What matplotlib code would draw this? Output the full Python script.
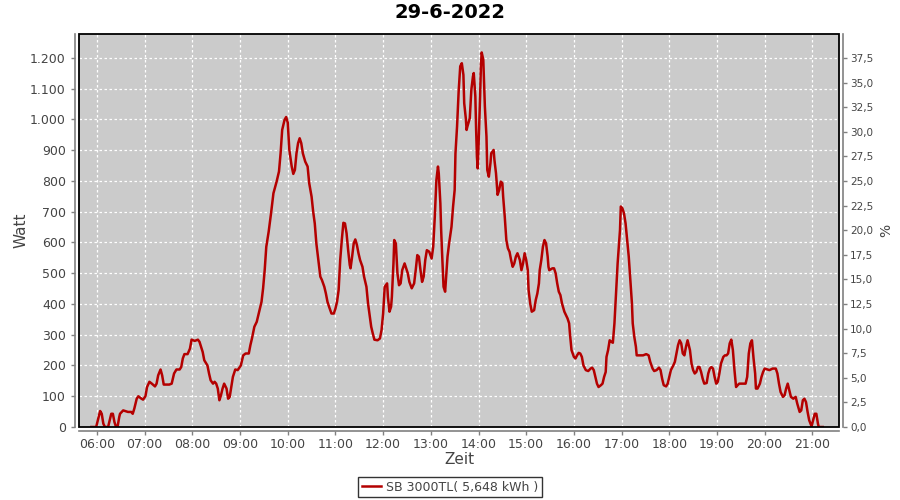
import matplotlib
matplotlib.use("Agg")
import matplotlib.pyplot as plt
from matplotlib.patches import Rectangle
from matplotlib.ticker import FuncFormatter, MultipleLocator

zeiten = [
    "05:53", "05:59", "06:02", "06:04", "06:06", "06:08", "06:10", "06:14", "06:16", "06:18",
    "06:20", "06:22", "06:24", "06:26", "06:28", "06:29", "06:33", "06:39", "06:43", "06:45",
    "06:47", "06:50", "06:52", "06:56", "06:58", "07:01", "07:03", "07:06", "07:09", "07:13",
    "07:15", "07:17", "07:20", "07:22", "07:24", "07:31", "07:34", "07:37", "07:40", "07:44",
    "07:46", "07:48", "07:50", "07:54", "07:57", "07:59", "08:03", "08:07", "08:09", "08:11",
    "08:13", "08:15", "08:19", "08:21", "08:23", "08:26", "08:28", "08:30", "08:32", "08:34",
    "08:36", "08:38", "08:40", "08:43", "08:45", "08:47", "08:49", "08:51", "08:54", "08:57",
    "09:01", "09:04", "09:07", "09:11", "09:13", "09:15", "09:18", "09:21", "09:24", "09:27",
    "09:29", "09:31", "09:33", "09:36", "09:39", "09:42", "09:46", "09:49", "09:51", "09:53",
    "09:56", "09:58", "10:00", "10:02", "10:05", "10:07", "10:09", "10:11", "10:13", "10:15",
    "10:17", "10:19", "10:22", "10:25", "10:27", "10:30", "10:32", "10:34", "10:36", "10:38",
    "10:41", "10:43", "10:46", "10:48", "10:50", "10:52", "10:55", "10:58", "11:00", "11:02",
    "11:04", "11:06", "11:08", "11:10", "11:12", "11:14", "11:16", "11:18", "11:19", "11:21",
    "11:23", "11:25", "11:27", "11:29", "11:31", "11:34", "11:36", "11:39", "11:41", "11:43",
    "11:45", "11:47", "11:49", "11:53", "11:56", "11:58", "12:00", "12:02", "12:05", "12:06",
    "12:08", "12:10", "12:11", "12:13", "12:14", "12:16", "12:18", "12:20", "12:22", "12:24",
    "12:27", "12:29", "12:31", "12:33", "12:36", "12:39", "12:41", "12:43", "12:45", "12:47",
    "12:49", "12:51", "12:53", "12:55", "12:58", "13:01", "13:03", "13:05", "13:07", "13:09",
    "13:10", "13:12", "13:13", "13:14", "13:16", "13:18", "13:19", "13:21", "13:23", "13:26",
    "13:28", "13:30", "13:31", "13:33", "13:35", "13:37", "13:39", "13:41", "13:42", "13:44",
    "13:45", "13:46", "13:49", "13:51", "13:53", "13:54", "13:56", "13:57", "13:58", "13:59",
    "14:00", "14:02", "14:03", "14:04", "14:06", "14:07", "14:08", "14:10", "14:11", "14:13",
    "14:15", "14:16", "14:19", "14:20", "14:22", "14:24", "14:26", "14:28", "14:30", "14:31",
    "14:33", "14:35", "14:37", "14:39", "14:41", "14:43", "14:45", "14:47", "14:49", "14:52",
    "14:54", "14:56", "14:58", "15:00", "15:02", "15:03", "15:05", "15:07", "15:10", "15:12",
    "15:14", "15:16", "15:17", "15:19", "15:21", "15:23", "15:25", "15:27", "15:28", "15:29",
    "15:33", "15:35", "15:37", "15:39", "15:41", "15:43", "15:45", "15:48", "15:52", "15:54",
    "15:55", "15:57", "16:00", "16:02", "16:04", "16:06", "16:08", "16:10", "16:12", "16:15",
    "16:18", "16:21", "16:23", "16:25", "16:27", "16:29", "16:31", "16:34", "16:36", "16:38",
    "16:40", "16:41", "16:43", "16:45", "16:47", "16:49", "16:51", "16:53", "16:55", "16:58",
    "16:59", "17:01", "17:03", "17:05", "17:07", "17:09", "17:11", "17:13", "17:14", "17:16",
    "17:18", "17:19", "17:27", "17:31", "17:34", "17:36", "17:39", "17:41", "17:44", "17:47",
    "17:49", "17:51", "17:53", "17:56", "17:58", "18:00", "18:02", "18:05", "18:07", "18:09",
    "18:11", "18:13", "18:15", "18:17", "18:19", "18:21", "18:23", "18:26", "18:28", "18:30",
    "18:32", "18:34", "18:36", "18:38", "18:40", "18:42", "18:44", "18:47", "18:49", "18:51",
    "18:53", "18:55", "18:57", "18:59", "19:01", "19:03", "19:05", "19:08", "19:10", "19:12",
    "19:14", "19:16", "19:18", "19:20", "19:22", "19:24", "19:26", "19:28", "19:33", "19:36",
    "19:38", "19:40", "19:42", "19:44", "19:46", "19:48", "19:49", "19:51", "19:54", "19:56",
    "19:58", "20:00", "20:06", "20:10", "20:14", "20:16", "20:18", "20:20", "20:23", "20:25",
    "20:27", "20:29", "20:31", "20:33", "20:36", "20:39", "20:41", "20:44", "20:46", "20:48",
    "20:50", "20:52", "20:54", "20:56", "20:59", "21:01", "21:03", "21:05", "21:07", "21:08",
    "21:13",
]
watt = [
    0, 0, 32, 52, 43, 11, 0, 0, 22, 43,
    43, 16, 0, 2, 32, 43, 54, 49, 49, 43,
    60, 92, 100, 92, 89, 100, 130, 147, 141, 132,
    141, 168, 187, 168, 138, 138, 141, 174, 187, 187,
    195, 223, 237, 237, 255, 284, 280, 284, 277, 261,
    244, 217, 200, 174, 152, 141, 147, 141, 125, 87,
    103, 125, 141, 125, 92, 98, 130, 163, 187, 185,
    200, 233, 239, 239, 266, 288, 326, 342, 375, 407,
    451, 510, 586, 635, 695, 760, 798, 831, 890, 966,
    999, 1008, 990, 901, 847, 823, 836, 890, 923, 939,
    923, 890, 863, 847, 793, 749, 700, 662, 597, 554,
    489, 478, 456, 434, 407, 391, 369, 369, 385, 407,
    445, 543, 608, 664, 662, 630, 575, 527, 516, 554,
    597, 610, 592, 565, 543, 521, 489, 456, 402, 364,
    326, 304, 284, 282, 288, 315, 369, 456, 467, 423,
    375, 391, 423, 532, 608, 597, 500, 461, 467, 510,
    532, 516, 500, 472, 451, 467, 510, 559, 554, 510,
    472, 489, 543, 575, 570, 548, 586, 684, 803, 847,
    825, 727, 641, 575, 456, 440, 478, 554, 597, 651,
    717, 771, 890, 977, 1091, 1173, 1183, 1145, 1053, 1004,
    966, 977, 1004, 1097, 1140, 1151, 1075, 966, 879, 841,
    912, 1075, 1173, 1218, 1194, 1118, 1042, 945, 836, 814,
    858, 890, 901, 869, 825, 755, 771, 798, 793, 749,
    684, 608, 581, 570, 543, 521, 532, 554, 565, 543,
    510, 532, 565, 543, 510, 445, 402, 375, 380, 413,
    434, 467, 510, 543, 586, 608, 597, 554, 521, 510,
    516, 516, 500, 467, 440, 429, 402, 375, 353, 337,
    304, 250, 228, 223, 233, 241, 239, 228, 200, 185,
    182, 190, 193, 185, 163, 141, 130, 136, 141, 163,
    179, 228, 250, 282, 277, 274, 337, 434, 532, 641,
    717, 711, 695, 662, 608, 554, 478, 402, 337, 293,
    261, 233, 233, 237, 233, 212, 190, 182, 185, 193,
    185, 157, 136, 132, 141, 163, 185, 200, 212, 239,
    266, 282, 272, 239, 233, 261, 282, 250, 206, 185,
    174, 179, 195, 195, 179, 157, 141, 143, 174, 190,
    195, 190, 163, 141, 147, 174, 206, 228, 233, 233,
    239, 272, 284, 250, 185, 130, 136, 141, 141, 141,
    163, 239, 272, 282, 223, 174, 125, 125, 141, 163,
    179, 190, 185, 190, 190, 174, 141, 114, 98, 103,
    125, 141, 119, 98, 92, 98, 76, 49, 54, 87,
    92, 81, 49, 22, 2, 22, 43, 43, 11, 0,
    0,
]

titel = "29-6-2022"
legende = "SB 3000TL( 5,648 kWh )"
stunden = ["06:00", "07:00", "08:00", "09:00", "10:00", "11:00", "12:00", "13:00",
           "14:00", "15:00", "16:00", "17:00", "18:00", "19:00", "20:00", "21:00"]
watt_pro_prozent = 32.0   # 37,5 % entspricht 1.200 W


def minuten(hhmm):
    h, m = hhmm.split(":")
    return int(h) * 60 + int(m)


x = [minuten(t) for t in zeiten]

GRAU = "#808080"
TEXT = "#444444"

fig = plt.figure(figsize=(9, 5), dpi=100)
ax = fig.add_axes([79 / 900, 1 - 427 / 500, (839 - 79) / 900, (427 - 34) / 500])
ax.set_facecolor("#CBCBCB")

linie, = ax.plot(x, watt, color="#B40000", lw=1.8, zorder=3, label=legende)

ax.set_xlim(337.4, 1293.5)
ax.set_ylim(0, 1278)
ax.set_xticks([minuten(s) for s in stunden])
ax.set_xticklabels(stunden)
ax.yaxis.set_major_locator(MultipleLocator(100))
ax.yaxis.set_major_formatter(FuncFormatter(lambda v, p: f"{v:,.0f}".replace(",", ".")))

ax.grid(True, color="white", lw=0.9, ls=(0, (2, 2)))
ax.set_axisbelow(True)

ax2 = ax.twinx()
ax2.set_ylim(0, 1278 / watt_pro_prozent)
ax2.yaxis.set_major_locator(MultipleLocator(2.5))
ax2.yaxis.set_major_formatter(FuncFormatter(lambda v, p: f"{v:.1f}".replace(".", ",")))

for a in (ax, ax2):
    for s in a.spines.values():
        s.set_visible(False)
ax.spines["left"].set_visible(True)
ax.spines["bottom"].set_visible(True)
ax2.spines["right"].set_visible(True)
for s in (ax.spines["left"], ax.spines["bottom"], ax2.spines["right"]):
    s.set_position(("outward", 3))
    s.set_color(GRAU)
    s.set_linewidth(1.2)

ax.tick_params(axis="both", colors=GRAU, labelcolor=TEXT, length=3, width=1, labelsize=9)
ax.tick_params(axis="x", pad=2)
ax2.tick_params(axis="y", colors=GRAU, labelcolor=TEXT, length=3, width=1, labelsize=7.5, pad=2)

ax.add_patch(Rectangle((0, 0), 1, 1, transform=ax.transAxes, fill=False,
                       edgecolor="black", lw=1.3, zorder=5, clip_on=False))

ax.set_ylabel("Watt", fontsize=11, color=TEXT, labelpad=1)
ax.set_xlabel("Zeit", fontsize=11, color=TEXT, labelpad=1)
ax2.set_ylabel("%", fontsize=10, color=TEXT, labelpad=4)

fig.text(0.5, 1 - 13 / 500, titel, ha="center", va="center", fontsize=14, fontweight="bold")

leg = fig.legend(handles=[linie], loc="center", bbox_to_anchor=(0.5, 1 - 487 / 500),
                 frameon=True, fancybox=False, fontsize=9, handlelength=1.5,
                 borderpad=0.3, handletextpad=0.4)
leg.get_frame().set_edgecolor("black")
leg.get_frame().set_linewidth(1.0)
for t in leg.get_texts():
    t.set_color(TEXT)

fig.savefig("out.png", dpi=100)
